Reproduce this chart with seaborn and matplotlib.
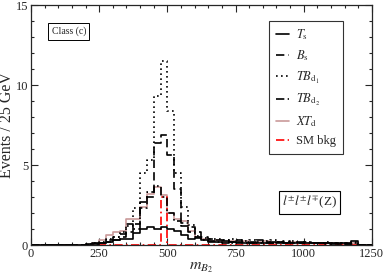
import numpy as np
import pandas as pd
import matplotlib
matplotlib.use("Agg")
import matplotlib.pyplot as plt
import seaborn as sns
from matplotlib.lines import Line2D
from matplotlib.ticker import MultipleLocator

# bins of 25 GeV from 0 to 1250
edges = np.arange(0, 1251, 25)
centers = edges[:-1] + 12.5

#Reading off the picture, one value per bin (50 bins)
T_s = [0, 0, 0, 0, 0, 0, 0, 0, 0.05, 0.1,
       0.15, 0.2, 0.3, 0.35, 0.35, 0.75, 1.0, 1.1, 1.0, 1.1,
       1.0, 0.85, 0.65, 0.4, 0.45, 0.3, 0.2, 0.2, 0.15, 0.2,
       0.15, 0.1, 0.15, 0.1, 0.15, 0.2, 0.1, 0.15, 0.1, 0.2,
       0.1, 0.1, 0.15, 0.1, 0.05, 0.1, 0.05, 0.25, 0, 0]
B_s = [0, 0, 0, 0, 0, 0, 0, 0, 0, 0.05,
       0.1, 0.2, 0.3, 0.5, 0.8, 1.3, 2.7, 3.0, 6.4, 6.9,
       5.6, 3.5, 1.2, 1.1, 0.8, 0.5, 0.35, 0.3, 0.3, 0.2,
       0.3, 0.2, 0.15, 0.3, 0.2, 0.15, 0.2, 0.25, 0.1, 0.15,
       0.2, 0.1, 0.1, 0.15, 0.1, 0.05, 0.1, 0.05, 0, 0]
TB_d1 = [0, 0, 0, 0, 0, 0, 0, 0, 0.05, 0.1,
         0.2, 0.35, 0.5, 0.8, 1.2, 2.3, 4.5, 5.3, 9.3, 11.5,
         8.4, 4.5, 2.4, 1.25, 0.55, 0.45, 0.4, 0.35, 0.3, 0.35,
         0.3, 0.25, 0.3, 0.2, 0.25, 0.3, 0.2, 0.2, 0.25, 0.15,
         0.2, 0.15, 0.1, 0.2, 0.1, 0.15, 0.1, 0.2, 0, 0]
TB_d2 = [0, 0, 0, 0, 0, 0, 0, 0, 0, 0.05,
         0.15, 0.3, 0.5, 0.7, 1.3, 1.0, 2.3, 3.3, 3.7, 3.0,
         2.0, 1.5, 1.4, 0.8, 0.5, 0.3, 0.25, 0.2, 0.25, 0.15,
         0.2, 0.15, 0.2, 0.15, 0.1, 0.15, 0.2, 0.1, 0.15, 0.1,
         0.15, 0.1, 0.1, 0.05, 0.1, 0.1, 0.05, 0.1, 0, 0]
XT_d = [0, 0, 0, 0, 0, 0, 0, 0, 0, 0.1,
        0.3, 0.6, 0.8, 0.9, 1.6, 1.6, 2.4, 3.2, 3.6, 3.1,
        2.0, 1.6, 1.5, 0.9, 0.5, 0.4, 0.25, 0.3, 0.2, 0.25,
        0.2, 0.25, 0.15, 0.2, 0.25, 0.15, 0.2, 0.1, 0.2, 0.15,
        0.1, 0.15, 0.1, 0.1, 0.15, 0.05, 0.1, 0.15, 0, 0]
SM_bkg = [0] * 14 + [0.02] * 5 + [3.0] + [0.02] * 6 + [0] * 24

labels = [r"$T_{\rm s}$", r"$B_{\rm s}$", r"$TB_{{\rm d}_1}$",
          r"$TB_{{\rm d}_2}$", r"$XT_{\rm d}$", "SM bkg"]
colors = ["black", "black", "black", "black", "#c99a9a", "red"]
styles = ["-", (0, (5, 2.5)), (0, (1, 2)), (0, (5, 2, 1, 2)), "-", (0, (5, 2, 1, 2))]

df = pd.DataFrame({"mass": np.tile(centers, 6),
                   "events": np.concatenate([T_s, B_s, TB_d1, TB_d2, XT_d, SM_bkg]),
                   "sample": np.repeat(labels, len(centers))})

sns.set_style("ticks")
plt.rcParams["font.family"] = ["Liberation Serif", "DejaVu Serif"]
plt.rcParams["mathtext.fontset"] = "stix"

fig = plt.figure(figsize=(3.85, 2.78), dpi=100)
ax = fig.add_axes([0.0805, 0.1187, 0.8855, 0.8633])

# draw order: lighter ones first so black lines sit on top
order = [4, 5, 0, 1, 2, 3]
for i in order:
    sub = df[df["sample"] == labels[i]]
    sns.histplot(data=sub, x="mass", weights="events", binwidth=25, binrange=(0, 1250),
                 element="step", fill=False, color=colors[i], linestyle=styles[i],
                 linewidth=1.2, ax=ax)

ax.set_xlim(0, 1250)
ax.set_ylim(0, 15)
ax.xaxis.set_major_locator(MultipleLocator(250))
ax.xaxis.set_minor_locator(MultipleLocator(50))
ax.yaxis.set_major_locator(MultipleLocator(5))
ax.yaxis.set_minor_locator(MultipleLocator(1))
ax.tick_params(which="both", direction="in", top=True, right=True, labelsize=9,
               width=0.8, pad=2)
ax.tick_params(which="major", length=5)
ax.tick_params(which="minor", length=2.5)
for s in ax.spines.values():
    s.set_linewidth(0.9)

ax.set_xlabel(r"$m_{B_2}$", fontsize=11.5)
ax.xaxis.set_label_coords(0.5, -0.06)
ax.set_ylabel("Events / 25 GeV", fontsize=11.5)
ax.yaxis.set_label_coords(-0.047, 0.5)

handles = [Line2D([], [], color=colors[i], linestyle=styles[i], linewidth=1.2) for i in range(6)]
leg = ax.legend(handles, labels, loc="upper right", bbox_to_anchor=(0.914, 0.932),
                fontsize=9, frameon=True, fancybox=False, edgecolor="black",
                handlelength=1.1, labelspacing=0.5, borderpad=0.5, handletextpad=0.55,
                borderaxespad=0)
leg.get_frame().set_linewidth(0.8)

ax.text(0.111, 0.89, "Class (c)", transform=ax.transAxes, fontsize=7, ha="center", va="center",
        bbox=dict(boxstyle="square,pad=0.35", fc="white", ec="black", lw=0.7))
ax.text(0.817, 0.179, r"$l^{\pm}l^{\pm}l^{\mp}$(Z)", transform=ax.transAxes, fontsize=9.5,
        ha="center", va="center",
        bbox=dict(boxstyle="square,pad=0.25", fc="white", ec="black", lw=0.8))

fig.savefig("out.png", dpi=100)
